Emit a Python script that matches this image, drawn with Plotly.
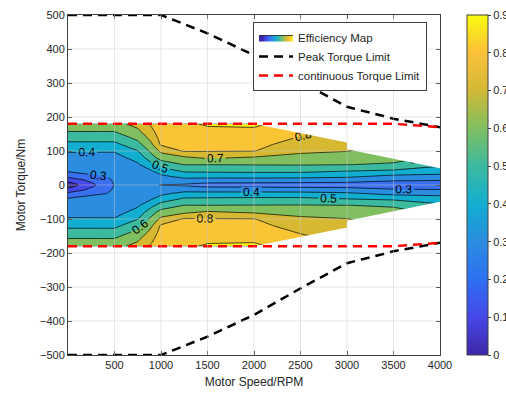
import numpy as np
import plotly.graph_objects as go

# ---------------- data ----------------
speeds = [0, 500, 750, 900, 1000, 1250, 1500, 2000, 2500, 3000, 3500, 4000]
torques_pos = [0, 5, 15, 25, 40, 60, 80, 100, 120, 140, 160, 180]

# efficiency per speed column (rows follow torques_pos), map is symmetric in torque
eff_0000 = [0.04, 0.07, 0.142, 0.221, 0.306, 0.339, 0.371, 0.407, 0.476, 0.543, 0.609, 0.67]
eff_0500 = [0.305, 0.307, 0.311, 0.316, 0.324, 0.338, 0.365, 0.407, 0.476, 0.543, 0.609, 0.67]
eff_0750 = [0.31, 0.316, 0.329, 0.342, 0.361, 0.387, 0.433, 0.497, 0.567, 0.63, 0.685, 0.73]
eff_0900 = [0.31, 0.32, 0.34, 0.36, 0.39, 0.475, 0.565, 0.626, 0.69, 0.735, 0.78, 0.82]
eff_1000 = [0.298, 0.315, 0.347, 0.378, 0.44, 0.544, 0.636, 0.725, 0.815, 0.84, 0.86, 0.87]
eff_1250 = [0.29, 0.312, 0.371, 0.428, 0.509, 0.603, 0.68, 0.81, 0.84, 0.86, 0.875, 0.885]
eff_1500 = [0.26, 0.293, 0.364, 0.429, 0.513, 0.602, 0.713, 0.806, 0.832, 0.858, 0.884, 0.91]
eff_2000 = [0.26, 0.289, 0.362, 0.431, 0.517, 0.604, 0.687, 0.803, 0.831, 0.86, 0.887, 0.915]
eff_2500 = [0.26, 0.285, 0.358, 0.431, 0.517, 0.606, 0.666, 0.719, 0.757, 0.794, 0.83, 0.86]
eff_3000 = [0.26, 0.282, 0.346, 0.417, 0.495, 0.602, 0.651, 0.703, 0.73, 0.75, 0.77, 0.79]
eff_3500 = [0.25, 0.269, 0.312, 0.371, 0.477, 0.589, 0.63, 0.66, 0.68, 0.69, 0.69, 0.69]
eff_4000 = [0.25, 0.268, 0.306, 0.369, 0.44, 0.52, 0.58, 0.62, 0.65, 0.67, 0.68, 0.69]

# outline of the measured region (upper half; lower half is mirrored)
boundary_speed = [2000, 3000, 3000, 4000]
boundary_torque = [180, 125, 105, 49]

peak_speed = [0, 1000, 1500, 2000, 2500, 3000, 3500, 4000]
peak_torque = [500, 500, 446, 382, 304, 230, 195, 170]

cont_speed = [0, 3500, 4000]
cont_torque = [180, 180, 170]

x_ticks = [500, 1000, 1500, 2000, 2500, 3000, 3500, 4000]
y_ticks = [-500, -400, -300, -200, -100, 0, 100, 200, 300, 400, 500]
cbar_ticks = [0, 0.1, 0.2, 0.3, 0.4, 0.5, 0.6, 0.7, 0.8, 0.9]

# ---------------- build grid ----------------
cols = [eff_0000, eff_0500, eff_0750, eff_0900, eff_1000, eff_1250,
        eff_1500, eff_2000, eff_2500, eff_3000, eff_3500, eff_4000]
Zpos = np.array(cols).T
Z = np.vstack([Zpos[:0:-1], Zpos])
T = [-t for t in reversed(torques_pos[1:])] + torques_pos

band_colors = ['#3e26a8', '#3e26a8', '#4648e8', '#3a6ff0', '#2a8de0', '#12aed0',
               '#3cbaa0', '#80bf60', '#d6b930', '#f9c535', '#f5ef1c']
band_scale = [[i / 10, c] for i, c in enumerate(band_colors)]

parula_vals = [0, 0.1, 0.2, 0.3, 0.4, 0.5, 0.6, 0.7, 0.8, 0.9]
parula_cols = ['#3e26a8', '#4648e8', '#2e6ff2', '#2a8de0', '#12aed0',
               '#3cbaa0', '#80bf60', '#d2b935', '#fbc03a', '#f9fb0e']
parula_scale = [[v / 0.9, c] for v, c in zip(parula_vals, parula_cols)]

fig = go.Figure()

fig.add_trace(go.Contour(
    x=speeds, y=T, z=Z,
    contours=dict(start=0, end=0.9, size=0.1, coloring='fill', showlabels=True,
                  labelfont=dict(size=12, color='black', family='Liberation Sans, Arial')),
    line=dict(color='black', width=0.7, smoothing=0),
    colorscale=band_scale, showscale=False,
    name='Efficiency Map', showlegend=True, hoverinfo='skip'))

# mask outside the measured region
tmax = torques_pos[-1]
smax = speeds[-1]
mx = boundary_speed + [smax, boundary_speed[0]]
my = boundary_torque + [tmax + 2, tmax + 2]
for sgn in (1, -1):
    fig.add_trace(go.Scatter(x=mx, y=[sgn * v for v in my], fill='toself',
                             fillcolor='white', line=dict(width=0), mode='lines',
                             showlegend=False, hoverinfo='skip'))

# colorbar (continuous parula)
fig.add_trace(go.Scatter(
    x=[None], y=[None], mode='markers', showlegend=False, hoverinfo='skip',
    marker=dict(color=[0], colorscale=parula_scale, cmin=0, cmax=0.9, showscale=True,
                colorbar=dict(x=(467 - 68) / 372, xanchor='left', xpad=0, ypad=0,
                              y=0.5, yanchor='middle', len=1, lenmode='fraction',
                              thickness=21, outlinecolor='#404040', outlinewidth=1,
                              tickvals=cbar_ticks, ticktext=[f'{v:g}' for v in cbar_ticks],
                              ticks='outside', ticklen=3, tickcolor='#404040',
                              tickfont=dict(size=11, color='#262626')))))

fig.add_trace(go.Scatter(
    x=peak_speed + [None] + peak_speed,
    y=peak_torque + [None] + [-v for v in peak_torque],
    mode='lines', line=dict(color='black', width=2.5, dash='9px,6px'),
    name='Peak Torque Limit', cliponaxis=False, hoverinfo='skip'))

fig.add_trace(go.Scatter(
    x=cont_speed + [None] + cont_speed,
    y=cont_torque + [None] + [-v for v in cont_torque],
    mode='lines', line=dict(color='#ff0000', width=2.5, dash='9px,6px'),
    name='continuous Torque Limit', cliponaxis=False, hoverinfo='skip'))

grid_col = 'rgba(200,200,200,0.45)'
shapes = []
for xv in x_ticks[:-1]:
    shapes.append(dict(type='line', xref='x', yref='y', x0=xv, x1=xv,
                       y0=y_ticks[0], y1=y_ticks[-1], layer='above',
                       line=dict(color=grid_col, width=1)))
for yv in y_ticks[1:-1]:
    shapes.append(dict(type='line', xref='x', yref='y', x0=0, x1=smax,
                       y0=yv, y1=yv, layer='above',
                       line=dict(color=grid_col, width=1)))

axis_common = dict(ticks='inside', ticklen=4, tickcolor='#404040', showline=True,
                   linecolor='#404040', linewidth=1, mirror='ticks', showgrid=False,
                   zeroline=False, tickfont=dict(size=11, color='#262626'))

fig.update_layout(
    width=506, height=399,
    margin=dict(l=68, r=66, t=15, b=44, autoexpand=False),
    paper_bgcolor='white', plot_bgcolor='white',
    font=dict(family='Liberation Sans, Arial', size=11, color='#262626'),
    shapes=shapes,
    xaxis=dict(range=[0, 4000], tickvals=x_ticks,
               title=dict(text='Motor Speed/RPM', font=dict(size=12, color='#262626'), standoff=7),
               **axis_common),
    yaxis=dict(range=[-500, 500], tickvals=y_ticks,
               title=dict(text='Motor Torque/Nm', font=dict(size=12, color='#262626'), standoff=11),
               **axis_common),
    legend=dict(x=(253 - 68) / 372, y=1 - (22 - 15) / 340, xanchor='left', yanchor='top',
                bgcolor='white', bordercolor='#404040', borderwidth=1,
                font=dict(size=11.5, color='#262626'), itemwidth=34,
                tracegroupgap=0),
    showlegend=True,
)

fig.write_html('out.html')
